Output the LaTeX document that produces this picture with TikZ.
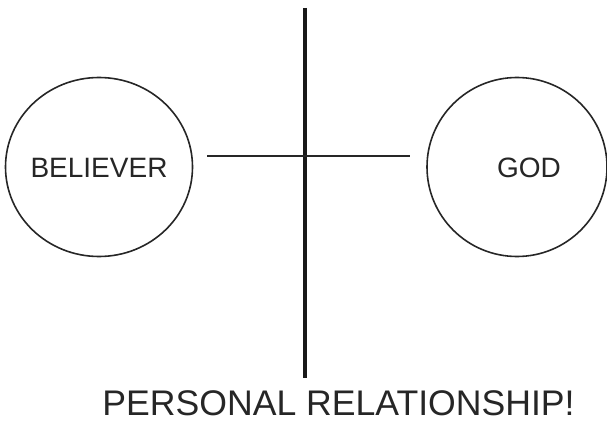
\documentclass[tikz,border=0pt]{standalone}
\usepackage{fontspec}
\setmainfont{Liberation Sans}
\usetikzlibrary{shapes.geometric}
\begin{document}
\begin{tikzpicture}[x=1pt,y=-1pt,
  ring/.style={draw=black!85,line width=1.6pt,ellipse,inner sep=0pt},
  lbl/.style={anchor=base,inner sep=0pt,text=black!85,font=\fontsize{28}{30}\selectfont},
  title/.style={anchor=base,inner sep=0pt,text=black!85,font=\fontsize{35.6}{38}\selectfont},
  thick line/.style={draw=black!90,line width=3.2pt},
  thin line/.style={draw=black!85,line width=1.8pt}]
\useasboundingbox (0,0) rectangle (607,422);
\node[ring,minimum width=187pt,minimum height=179pt] (believer) at (99,167) {};
\node[ring,minimum width=180pt,minimum height=179pt] (god) at (517,167) {};
\node[lbl] (blab) at (99,178) {BELIEVER};
\node[lbl] (glab) at (529,178) {GOD};
\coordinate (vtop) at (305,8);
\coordinate (vbot) at (305,378);
\coordinate (hl) at (207,156);
\coordinate (hr) at (410,156);
\draw[thick line] (vtop) -- (vbot);
\draw[thin line] (hl) -- (hr);
\node[title] (caption) at (338.5,415) {PERSONAL RELATIONSHIP!};
\end{tikzpicture}
\end{document}
